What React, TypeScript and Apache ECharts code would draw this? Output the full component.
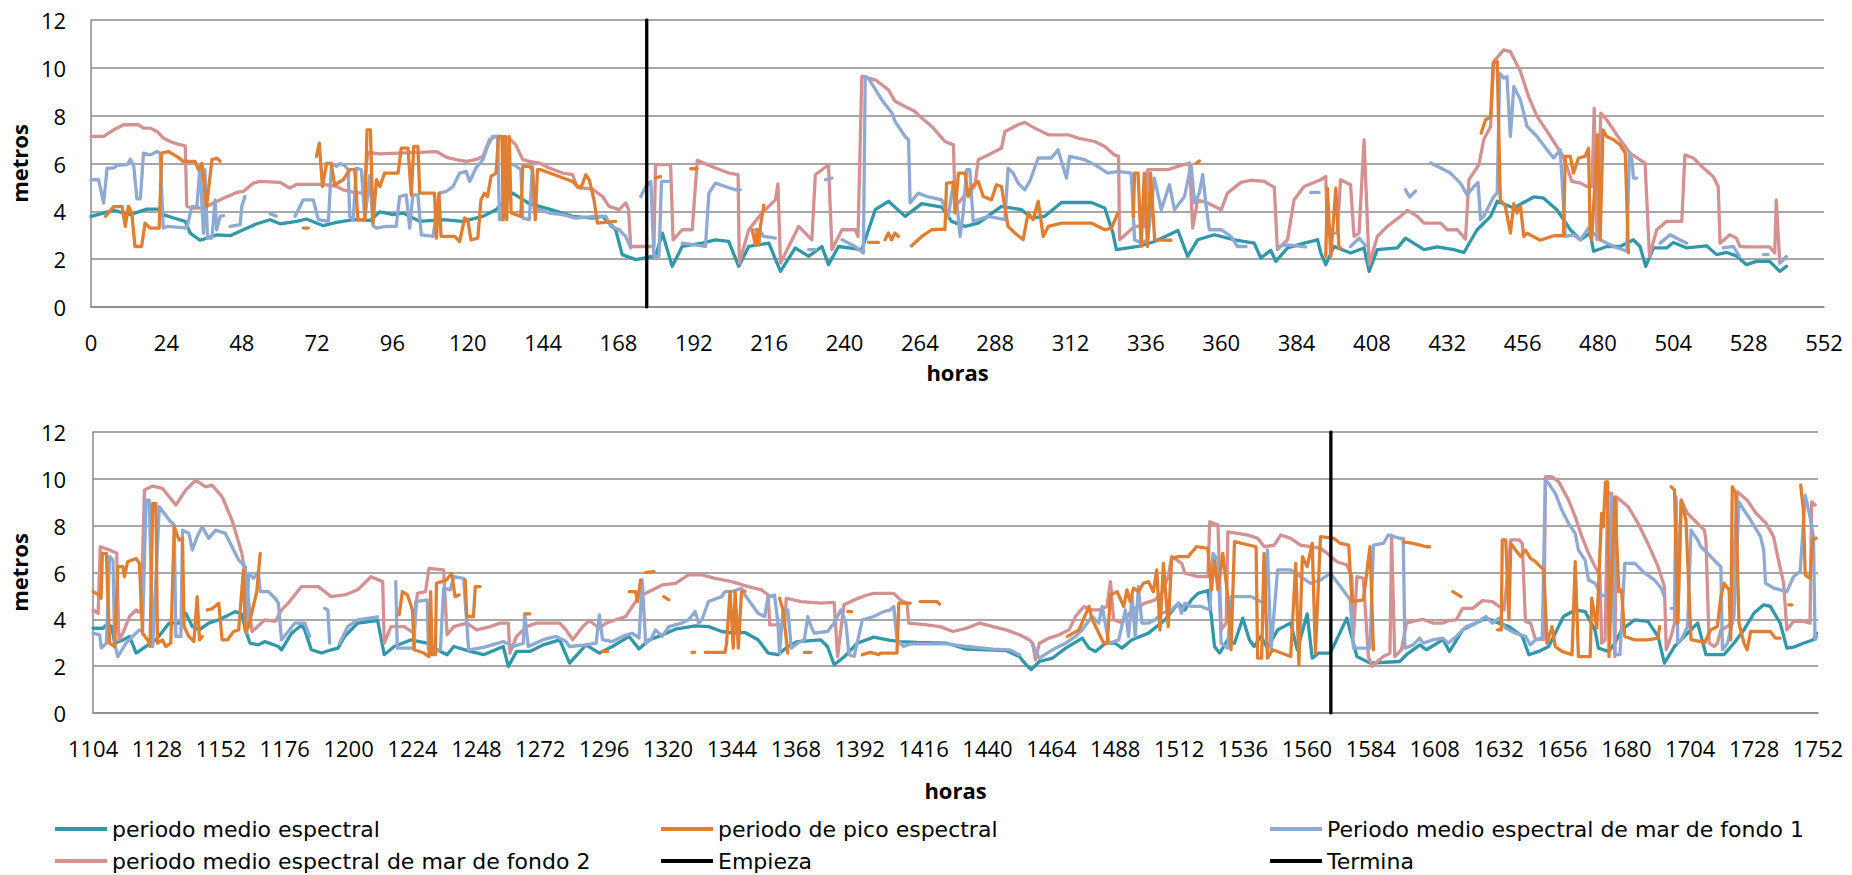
import React, { useEffect, useRef } from "react";
import * as echarts from "echarts";

type Pt = [number, number | null];

// Series names and colours
const seriesNames = [
  "periodo medio espectral",
  "periodo de pico espectral",
  "Periodo medio espectral de mar de fondo 1",
  "periodo medio espectral de mar de fondo 2",
  "Empieza",
  "Termina",
];
const seriesColors = ["#3197aa", "#e07f31", "#8eaad3", "#d49192", "#000000", "#000000"];

// Axis ranges (hours / metres)
const topHours = [0, 552];
const bottomHours = [1104, 1752];
const hourStep = 24;
const metrosRange = [0, 12];
const metrosStep = 2;

// Marker hours
const empiezaHour = 177;
const terminaHour = 1569;

// ---------- upper panel: 0 - 552 h ----------
const medioTop: Pt[] = [[0,3.79],[7.2,4.04],[12.5,3.86],[17.8,4.09],[21.5,4.09],[23,3.86],[26.3,3.72],[30,3.58],[31.6,3.09],[34.7,2.79],[37.9,2.92],[40,3.02],[44.3,2.98],[48.5,3.23],[52.8,3.48],[57,3.65],[60.2,3.48],[65.5,3.58],[68.6,3.68],[74,3.4],[78.2,3.54],[83.5,3.65],[88.8,3.62],[92,3.98],[96.2,3.86],[99.4,3.93],[104.7,3.58],[112,3.65],[118.4,3.58],[124.8,3.79],[129,4.07],[134.3,4.76],[139.6,4.32],[146,4.09],[153.4,3.79],[159.7,3.72],[162.9,3.79],[167.1,3.23],[169.2,2.19],[173.5,1.98],[177.7,2.09],[179.8,2.12],[182,3.09],[185.1,1.7],[188.3,2.53],[194.7,2.67],[198.9,2.81],[203.1,2.74],[206.3,1.7],[209.5,2.53],[215.9,2.67],[219.6,1.49],[224.3,2.47],[228.6,2.12],[232.8,2.53],[234.9,1.77],[238.1,2.53],[245.5,2.4],[249.8,4.07],[254,4.42],[259.3,3.79],[264.6,4.32],[271,4.18],[274.1,3.58],[278.4,3.37],[282.6,3.51],[290,4.21],[296.4,4.07],[299.6,3.72],[303.8,3.79],[309.1,4.37],[318.6,4.37],[322.9,4.14],[325.5,3.09],[326.6,2.4],[333.5,2.53],[338.8,2.74],[346.2,3.2],[349.3,2.12],[352.5,2.81],[357.8,3.02],[364.2,2.81],[370.5,2.67],[372.6,2.05],[375.8,2.37],[377.4,1.91],[381.1,2.47],[386.4,2.67],[390.7,2.81],[391.7,2.26],[393.3,1.77],[395.9,2.53],[401.2,2.26],[405.5,2.47],[407.1,1.49],[409.7,2.4],[416.1,2.47],[418.7,2.88],[424.6,2.4],[428.8,2.51],[434.1,2.4],[437.3,2.28],[441.5,3.23],[445.8,3.79],[447.9,4.42],[453.2,4.14],[459.5,4.6],[462.7,4.55],[466.9,4.07],[471.2,3.23],[474.4,2.81],[477.5,3.09],[478.6,2.33],[482.8,2.53],[487.1,2.53],[491.3,2.81],[493.4,2.53],[495.2,1.7],[497.7,2.47],[501.9,2.47],[504,2.7],[508.3,2.47],[514.6,2.56],[517.8,2.19],[521,2.28],[524.1,2.14],[527.3,1.77],[530.5,1.91],[534.7,1.91],[537.9,1.49],[540,1.7]];

const picoTop: Pt[] = [[4.6,3.79],[7.2,4.2],[9.9,4.2],[10.9,3.37],[11.9,4.21],[13,3.9],[14,2.53],[16.1,2.53],[17.2,3.51],[18.8,3.3],[21.7,3.3],[22.5,6.43],[24.6,6.5],[27.3,6.3],[29.4,6.09],[33.1,6.09],[34.2,5.74],[35.3,6.0],[36.8,4.2],[38.5,6.16],[40.1,6.22],[41.1,6.1],[42,null],
[67.6,3.3],[69.2,3.3],[70,null],
[71.8,6.3],[72.7,6.85],[73.7,5.04],[75,6.0],[76.5,6.0],[77.6,5.1],[80.3,5.32],[82.4,5.74],[84,5.74],[85,3.65],[87.2,3.65],[87.9,7.41],[89,7.41],[89.8,3.5],[90.9,5.32],[92,5.04],[93.5,5.6],[97.8,5.6],[98.8,6.64],[100.95,6.64],[102,4.69],[102.8,6.71],[104.1,6.71],[104.7,4.76],[109.4,4.76],[110,2.88],[110.8,4.76],[111.5,2.95],[115.8,2.95],[117.4,2.74],[119,3.72],[120,3.65],[121,2.81],[123.2,2.88],[124.2,4.48],[125.3,4.76],[126.3,4.62],[127.4,5.46],[129,5.6],[129.8,7.13],[130.9,7.13],[131.3,3.65],[132,7.13],[132.4,3.65],[133.2,7.13],[133.8,3.93],[136.9,3.79],[137.5,5.88],[139.6,5.88],[140.6,5.74],[141.5,3.65],[142.2,5.74],[143.3,5.74],[153.4,5.25],[154.4,5.11],[156,4.97],[157.6,5.53],[158.7,5.32],[160.2,4.48],[161.3,3.51],[167.1,3.58],[168,null],
[179.8,5.4],[181.4,5.45],[182,null],
[191,5.78],[193,5.78],[194,null],
[210.6,3.23],[211.6,2.6],[212.2,3.23],[212.7,2.6],[213.2,3.37],[214.3,4.25],[215,null],
[247.6,2.7],[250.8,2.7],[251.5,null],
[252.9,2.81],[254,3.09],[255,2.81],[256.1,3.09],[257.2,2.95],[258,null],
[261.4,2.56],[264.6,2.95],[267.8,3.23],[271,3.26],[272,3.23],[272.5,5.18],[274.7,5.21],[275.2,3.93],[276.3,5.6],[278.4,5.6],[279.4,4.62],[280.5,5.04],[282.6,5.25],[284.2,4.62],[286.8,4.48],[288.4,5.11],[290,5.04],[292.1,3.37],[294.3,3.09],[296.9,2.81],[298.5,3.93],[300.1,3.65],[301.7,4.42],[303.3,2.95],[304.9,3.37],[309.1,3.51],[318.6,3.51],[322.9,3.23],[325,3.3],[327.1,3.93],[328,null],
[332,3.79],[332.4,5.6],[333.5,5.6],[334.5,2.53],[335.5,5.6],[336.5,2.53],[337.5,5.6],[338.8,2.81],[344,2.79],[345,null],
[352,6.0],[353,6.1],[354,null],
[393.3,2.12],[393.8,4.97],[394.9,2.12],[396.5,4.97],[397.5,2.47],[398,2.47],[399,null],
[442.8,7.27],[444.2,7.83],[445.8,7.94],[446.6,10.2],[447.9,10.26],[448.9,4.48],[450.5,4.21],[452.1,3.09],[453.2,4.32],[454.2,3.93],[455.3,4.21],[456.4,2.95],[457.4,3.09],[461.6,2.79],[465.9,2.98],[469,2.98],[469.6,6.3],[471.2,6.3],[472.2,5.6],[473.8,6.23],[475.9,6.3],[477,6.64],[477.5,3.09],[478,2.81],[479.9,7.2],[480.7,2.81],[481.6,7.4],[482.8,7.13],[485,6.99],[487.1,6.78],[488.7,6.43],[489.7,2.26]];

const fondo1Top: Pt[] = [[0,5.32],[2.4,5.32],[4,4.35],[5.1,5.81],[7.2,5.81],[8.3,5.92],[11.5,5.95],[12.5,6.18],[13.6,5.9],[14.6,4.52],[15.7,4.52],[16.7,6.43],[18.9,6.36],[21,6.5],[22,6.43],[23,3.3],[24.2,3.37],[30.5,3.3],[32.1,4.2],[33.7,4.2],[34.7,5.88],[35.8,3.09],[36.3,5.74],[37.1,2.88],[38.5,2.88],[39.5,4.48],[40,3.23],[41.1,3.79],[42.2,3.82],[43,null],
[44.3,3.37],[47.5,3.44],[48,4.2],[49,4.62],[49.5,null],
[57,3.9],[59,3.8],[60,null],
[65,3.79],[67.6,4.48],[70.8,4.48],[72.4,3.65],[75.6,3.58],[76.6,6.0],[78.2,5.88],[79.2,6.0],[80.8,5.92],[81.9,5.74],[82.4,3.79],[83.5,3.65],[84.5,5.81],[86.1,5.74],[87.2,3.65],[88.8,5.5],[89.8,3.4],[90.9,3.3],[94,3.37],[97.2,3.37],[98.3,4.62],[100.4,4.69],[101.5,3.3],[102.5,4.69],[104.1,4.69],[105.2,3.02],[108.9,2.95],[111,4.76],[113.1,4.83],[115.3,5.04],[117.4,5.6],[119.5,5.67],[120.6,5.25],[122.6,5.81],[124.8,6.16],[126.3,6.71],[127.9,7.13],[129.5,7.13],[130.1,3.65],[131.1,3.65],[131.6,7.13],[132.7,6.0],[134.8,5.95],[136.9,5.74],[137.5,3.72],[139.6,3.65],[140.6,5.88],[141.2,4.07],[142.8,4.07],[146,3.93],[150.2,3.86],[154.4,3.72],[160.8,3.79],[164,3.79],[165.5,3.37],[168.2,3.23],[170.3,2.95],[171.9,2.47],[173,null],
[175.1,4.62],[176.7,5.04],[178.3,5.25],[179.3,2.12],[180.9,2.12],[181.7,5.25],[184.1,5.25],[185,null],
[188.3,2.67],[195.7,2.53],[196.8,4.76],[198.9,5.18],[202,5.04],[205.3,4.9],[206.8,4.9],[207.5,null],
[211.6,3.23],[212.7,3.23],[214.3,2.95],[218,2.88],[219,null],
[228.6,2.4],[230.7,2.4],[231.5,null],
[233.9,5.32],[236,5.39],[237,null],
[239.2,2.81],[243.4,2.53],[246,2.26],[246.6,9.64],[247.6,9.57],[251.9,8.66],[255.1,8.11],[256.1,7.76],[259.3,7.13],[260.4,6.99],[260.9,4.35],[263.5,4.76],[266.7,4.6],[271,4.48],[273.1,3.79],[274.7,5.25],[275.7,4.48],[276.8,2.95],[277.8,3.93],[278.9,5.74],[279.9,5.74],[281,3.58],[285.8,3.79],[291.1,3.65],[292.1,5.81],[293.7,5.6],[295.3,5.18],[297.4,4.9],[299,5.25],[301.7,6.23],[305.9,6.23],[308,6.57],[309.6,5.88],[310.7,5.39],[311.7,6.3],[316.5,6.16],[319.7,5.95],[323.9,5.6],[327.1,5.67],[331.3,5.6],[332.4,2.81],[334.5,2.67],[336.6,2.81],[338.7,5.39],[340.9,4.07],[343.5,5.11],[345.1,4.07],[348.3,4.62],[350.4,5.95],[351.5,4.35],[353,4.76],[354.1,5.53],[355.2,4.21],[356.2,3.23],[360,3.23],[363.1,2.95],[365.2,2.53],[367.9,2.53],[369,null],
[377.9,2.53],[381.1,2.6],[386.9,2.51],[387.5,null],
[388.5,4.79],[391.2,4.79],[392,null],
[401.2,2.53],[403.9,2.88],[406,2.56],[407,null],
[418.7,4.9],[420,4.6],[421.9,4.85],[423,null],
[426.7,6.02],[429.9,5.81],[433,5.6],[436.2,5.18],[438.3,4.69],[440.5,5.04],[441.8,5.21],[442.6,3.65],[443.6,3.79],[446.8,4.62],[447.9,4.76],[448.7,9.78],[450,9.57],[451,9.64],[452.1,7.13],[453.2,9.22],[455.3,8.66],[457.4,7.55],[460.6,7.13],[463.8,6.57],[465.9,6.23],[468,6.57],[469.6,2.95],[472.2,3.02],[474.4,2.81],[477,3.3],[480.7,2.81],[485,2.53],[489.2,2.33],[490,6.43],[490.8,6.16],[491.3,5.39],[492.4,5.39],[493,null],
[499.8,2.67],[503,3.02],[506,2.81],[508.3,2.67],[509,null],
[519.9,2.47],[523.1,2.53],[525,2.14],[526,null],
[532.6,2.19],[534.2,2.19],[535,null],
[537.9,1.84],[540,2.1]];

const fondo2Top: Pt[] = [[0,7.13],[4,7.13],[7.2,7.41],[9.3,7.55],[10.4,7.62],[15.1,7.62],[16.7,7.48],[18.9,7.48],[21,7.34],[23.1,7.06],[25.2,6.92],[27.3,6.82],[30,6.74],[30.5,4.21],[32.6,4.14],[35.8,4.14],[39,4.35],[42.2,4.55],[46.4,4.79],[48.5,4.83],[51.7,5.18],[53.8,5.25],[60.2,5.21],[63.3,4.97],[65.5,5.13],[74,5.13],[78.2,5.04],[80.3,4.9],[83.5,4.79],[86.6,4.76],[88.2,6.46],[92,6.4],[110,6.5],[113.1,6.27],[116.3,6.16],[119.5,6.09],[122.6,6.16],[124.8,6.3],[126.9,6.99],[129,7.13],[133.2,7.06],[135.3,6.78],[137.5,6.16],[139.6,6.09],[142.8,6.02],[145.9,5.81],[150.2,5.6],[153.4,5.53],[154.9,5.0],[159.7,4.93],[162.9,4.62],[165,4.21],[168.2,4.07],[170.3,4.35],[171.2,4.07],[171.9,2.53],[176.1,2.53],[179.3,2.53],[179.8,5.95],[184.6,5.95],[185.4,2.81],[188.3,3.23],[191.5,3.23],[193.1,6.13],[198.9,5.81],[203.1,5.6],[206.1,5.53],[206.5,1.84],[209.5,3.23],[213.7,3.93],[218,4.48],[218.8,5.15],[219.6,1.84],[225.4,3.37],[229.6,2.81],[230.7,5.53],[234.9,5.95],[236,2.4],[239.2,3.23],[243.4,3.23],[244.3,2.95],[245.5,9.64],[249.8,9.5],[254,9.08],[256.1,8.6],[259.3,8.38],[262.5,8.17],[264.6,7.9],[267.8,7.55],[272,6.92],[274.7,6.78],[275.2,4.48],[276.3,4.35],[278.4,4.69],[281.5,5.04],[282.6,6.16],[285.8,6.36],[290,6.64],[291.1,7.34],[295.3,7.62],[297.4,7.72],[300.6,7.48],[304.9,7.2],[311.2,7.2],[314.4,7.06],[319.7,6.92],[322.9,6.71],[326,6.36],[327.3,6.3],[327.6,2.81],[332.4,3.37],[335.6,3.37],[336.6,5.74],[343,5.74],[346.2,5.88],[349.9,6.02],[350.9,3.3],[352.5,4.48],[355.7,4.35],[360,4.07],[362,4.76],[366.3,5.21],[369.5,5.3],[373.7,5.25],[376.9,5.0],[377.9,2.4],[381.1,2.81],[383.2,4.48],[386.4,5.04],[391.7,5.32],[393.3,5.46],[393.8,3.09],[397,3.09],[398,5.32],[401.2,5.11],[402.3,2.95],[403.9,3.09],[405.5,6.99],[407.1,1.77],[409.7,2.95],[412.9,3.37],[417.1,3.79],[419.3,4.04],[422.5,3.79],[424.6,3.51],[429.9,3.51],[432,3.23],[435.2,3.23],[437.8,2.84],[438.9,5.32],[442.1,5.95],[443.6,6.99],[445.8,7.55],[446.8,10.26],[450,10.75],[452.1,10.68],[455.3,9.85],[457.9,8.8],[460.6,7.97],[463.8,7.34],[466.9,6.71],[469,6.3],[471.7,5.25],[474.4,5.18],[476.5,5.04],[478.1,5.04],[478.8,8.31],[479.7,2.81],[480.9,8.11],[482.8,7.83],[487.1,6.99],[490.2,6.43],[495,6.02],[496.4,2.12],[498.7,3.23],[501.9,3.58],[506.7,3.58],[507.7,6.36],[510.4,6.23],[513.6,5.81],[516.7,5.46],[518.3,5.04],[518.9,2.67],[522,3.02],[524.1,2.88],[525.2,2.53],[528.4,2.51],[534.7,2.51],[536.3,2.26],[536.8,4.48],[537.9,1.84],[540,2.1]];

// ---------- lower panel: 1104 - 1752 h ----------
const medioBottom: Pt[] = [[1104,3.62],[1107.7,3.62],[1109,3.76],[1111,3.7],[1112.1,2.98],[1115.2,3.12],[1117.7,3.27],[1120.2,2.56],[1123.9,2.84],[1127.6,3.12],[1132.6,3.84],[1136.3,3.84],[1138.8,4.26],[1141.3,3.69],[1143.8,3.55],[1147.5,3.84],[1151.2,3.98],[1155,4.19],[1157.4,4.33],[1159.9,4.23],[1161.2,3.55],[1163,2.98],[1166.1,2.91],[1168.6,3.05],[1173.6,2.84],[1174.8,2.7],[1178.6,3.41],[1182.3,3.76],[1183.5,3.55],[1186,2.7],[1189.8,2.56],[1193.5,2.7],[1196,2.77],[1198.5,3.27],[1203.4,3.84],[1210.9,3.95],[1213.4,2.49],[1217.1,2.84],[1223.3,3.12],[1229.5,2.98],[1233.3,2.7],[1237,2.49],[1239.5,2.84],[1245.7,2.63],[1250.7,2.49],[1258.1,2.84],[1260,1.99],[1263.1,2.63],[1268.1,2.63],[1273.1,2.91],[1279.3,3.12],[1283,2.13],[1289.2,2.91],[1294.2,2.56],[1299.1,2.84],[1305.4,3.27],[1309.1,2.73],[1312.8,3.12],[1316.5,3.27],[1322.8,3.58],[1330.2,3.72],[1335.2,3.69],[1340.2,3.48],[1345.1,3.41],[1348.9,3.44],[1353.8,3.13],[1357.6,2.56],[1361.3,2.49],[1365,2.84],[1368.7,3.05],[1377.4,3.12],[1379.9,2.84],[1382.4,2.06],[1386.1,2.39],[1391.1,2.98],[1397.3,3.24],[1403.5,3.1],[1407.3,3.05],[1413.5,3.01],[1424.7,2.98],[1432.1,2.73],[1439.6,2.7],[1447,2.67],[1452,2.41],[1454.5,2.06],[1456.4,1.85],[1459.5,2.2],[1464.4,2.34],[1469.4,2.77],[1475.6,3.2],[1478.1,2.77],[1480.6,2.63],[1484.3,2.98],[1488,2.98],[1490.5,2.77],[1494.3,3.13],[1500.5,3.41],[1506.7,3.98],[1511.7,4.69],[1514.1,4.4],[1516.6,4.83],[1519.1,5.11],[1522.8,5.23],[1524.1,4.12],[1525.3,2.84],[1527.2,2.56],[1530.3,3.13],[1532.8,2.98],[1535.9,4.05],[1538.4,3.13],[1540.2,2.84],[1542.7,3.27],[1545.2,2.77],[1549,3.55],[1553.9,3.84],[1556.4,2.7],[1560.1,4.23],[1562,2.34],[1564.5,2.56],[1568.8,2.56],[1575,4.05],[1578.8,2.41],[1583.7,2.13],[1594.9,2.2],[1597.4,2.49],[1602.4,2.91],[1604.9,2.7],[1611.1,3.13],[1613.6,2.63],[1618.5,3.55],[1623.5,3.84],[1627.2,4.05],[1632.2,3.84],[1635.9,3.69],[1640.9,3.27],[1643.4,2.49],[1647.1,2.63],[1650.8,2.84],[1653.3,3.41],[1656.4,4.12],[1660.8,4.4],[1664.5,4.33],[1668.2,3.55],[1669.5,2.77],[1673.2,2.63],[1675.7,2.98],[1678.2,3.55],[1683.2,3.98],[1688.1,3.91],[1691.9,3.27],[1694.3,2.13],[1698.1,2.84],[1703,3.41],[1706.8,3.84],[1709.9,2.49],[1716.7,2.49],[1720.4,2.98],[1724.2,3.55],[1727.9,4.26],[1731.6,4.62],[1734.1,4.55],[1737.8,3.84],[1740.3,2.77],[1742.8,2.81],[1746.5,2.98],[1750.3,3.13],[1751.5,3.41]];

const picoBottom: Pt[] = [[1104,5.18],[1106.5,5.04],[1107,4.9],[1107.5,6.82],[1109,6.82],[1110.2,2.98],[1112.1,2.84],[1113.3,6.25],[1115.2,6.25],[1115.8,5.82],[1117,6.46],[1120.2,6.6],[1121.4,6.39],[1122.6,3.41],[1124.5,3.12],[1125.4,2.84],[1126.4,8.95],[1127.6,8.95],[1128.2,2.98],[1130.1,3.12],[1131.3,2.84],[1133.2,2.98],[1134.5,7.95],[1136.3,7.39],[1137.6,7.46],[1138.2,3.69],[1140,3.27],[1141.9,3.05],[1143.1,4.97],[1144,3.12],[1145,3.27],[1145.5,null],
[1146.9,4.4],[1148.7,4.45],[1151.2,4.69],[1152.5,3.12],[1154.5,3.12],[1156.8,3.48],[1158.7,3.55],[1160.5,6.11],[1161.2,3.48],[1162.4,3.69],[1165.5,5.18],[1166.8,6.82],[1167.5,null],
[1219,4.19],[1220.2,5.18],[1222.1,5.04],[1224,4.4],[1224.6,2.7],[1228.3,2.56],[1230.2,2.41],[1230.8,5.18],[1231.4,2.49],[1232.6,2.49],[1233,5.54],[1234.9,5.61],[1236.8,5.68],[1238.7,5.97],[1240,4.97],[1241.5,5.04],[1242,null],
[1243.8,5.68],[1244.4,4.12],[1246.9,4.12],[1247.6,5.4],[1249.4,5.4],[1250,null],
[1266.2,4.23],[1268.1,4.23],[1269,null],
[1295.4,2.63],[1297.3,2.63],[1298,null],
[1305.4,5.18],[1307.8,5.18],[1308.5,4.76],[1309.7,5.68],[1310.5,null],
[1311.6,6.0],[1314.7,6.04],[1315.5,null],
[1318.4,4.97],[1320.3,4.83],[1321,null],
[1329,2.59],[1330,2.59],[1331,null],
[1334,2.59],[1341.4,2.59],[1342,2.98],[1343.3,5.18],[1344.5,2.77],[1345.2,5.18],[1346.4,2.77],[1347.6,5.18],[1348.9,5.2],[1349.5,null],
[1361.9,4.9],[1363.2,4.4],[1365,2.56],[1366,null],
[1371.2,2.59],[1373.7,2.59],[1374.5,null],
[1387.5,4.33],[1389,4.33],[1390,null],
[1393,2.49],[1396,2.59],[1399.2,2.49],[1399.8,2.56],[1406,2.56],[1406.7,4.69],[1411,4.69],[1412,null],
[1414.7,4.76],[1421,4.76],[1422,4.65],[1423,null],
[1470,3.27],[1474.4,3.55],[1478.1,4.55],[1479.3,4.0],[1483.7,2.98],[1485,2.98],[1486.2,5.04],[1488.7,5.18],[1491.2,4.55],[1492.4,5.26],[1493.6,4.76],[1494.9,5.33],[1496.7,5.18],[1498.6,5.54],[1500.5,5.61],[1502.3,5.18],[1503.6,6.11],[1504.8,3.55],[1506.1,6.39],[1507.9,3.69],[1509.2,6.6],[1511.7,6.68],[1515.4,6.68],[1518.5,7.1],[1522.8,7.03],[1524.1,5.26],[1525.3,6.53],[1526.6,5.26],[1528.4,6.82],[1530.3,4.97],[1531.5,2.7],[1532.8,7.32],[1540.9,7.1],[1541.5,2.34],[1543,2.34],[1543.9,6.82],[1545.2,2.34],[1547.1,2.7],[1553.9,2.41],[1555.8,6.39],[1557,2.06],[1558.3,6.68],[1560.1,6.25],[1562,7.24],[1563.2,2.56],[1565.1,7.53],[1570.1,7.46],[1572.6,7.24],[1575.7,7.17],[1576.9,4.76],[1581.2,4.83],[1583.7,7.1],[1585,2.7],[1586,null],
[1596.2,7.31],[1599.9,7.24],[1602.4,7.17],[1604.9,7.1],[1606.1,7.1],[1607,null],
[1614.8,5.18],[1617.9,4.97],[1619,null],
[1631.6,3.55],[1633,3.55],[1633.4,7.39],[1634.7,7.39],[1635.9,3.98],[1636.6,7.24],[1638.4,6.96],[1640.3,6.68],[1642.1,6.96],[1644,6.6],[1645.9,6.46],[1647.7,6.25],[1649,6.11],[1650.2,2.98],[1652.1,3.69],[1653.3,2.84],[1655.8,2.63],[1659.6,2.49],[1660.8,6.46],[1662,2.41],[1666.4,2.41],[1667,4.9],[1668.9,3.62],[1670.7,8.52],[1671.3,7.95],[1672.2,9.87],[1673,9.87],[1673.5,2.41],[1674.5,5.82],[1675.7,9.23],[1677.2,5.18],[1678.2,5.25],[1679.4,3.27],[1683.2,3.12],[1688.1,3.12],[1691.9,3.2],[1692.5,3.69],[1693,null],
[1696.8,9.66],[1698.1,9.52],[1699.3,3.84],[1700.6,9.09],[1702.4,8.24],[1704.3,3.13],[1708,3.05],[1709.3,2.98],[1711.7,3.55],[1714.2,3.69],[1715.5,4.97],[1716.7,5.54],[1718.6,5.25],[1719.2,3.12],[1719.8,9.66],[1721.1,9.38],[1722.3,3.84],[1724.2,2.98],[1725.4,2.7],[1726.7,3.48],[1730.4,3.48],[1734.1,3.48],[1736,3.2],[1737.8,3.2],[1738.5,null],
[1741,4.62],[1742.2,4.62],[1743,null],
[1745.5,9.73],[1746.5,8.66],[1747.2,5.9],[1749,5.75],[1750,7.39],[1751.3,7.46]];

const fondo1Bottom: Pt[] = [[1104,3.41],[1106.5,3.34],[1107.1,2.77],[1109,2.98],[1110.2,6.68],[1111.5,6.53],[1112.1,2.98],[1113.3,2.41],[1116.4,2.98],[1118.9,3.27],[1121.4,3.55],[1122.6,3.48],[1123.9,9.09],[1125.1,9.09],[1126.4,2.84],[1128.9,8.81],[1132.6,8.24],[1134.5,8.03],[1135.1,3.27],[1137,3.27],[1137.6,7.81],[1140,7.67],[1141.3,6.96],[1143.1,7.53],[1145,7.95],[1147.5,7.46],[1150,7.81],[1153.7,7.67],[1156.2,7.1],[1158.7,6.53],[1161.2,6.25],[1161.8,3.41],[1162.4,5.97],[1164.3,5.75],[1166.1,6.04],[1166.8,5.18],[1169.9,5.18],[1172.4,4.9],[1173.6,4.69],[1174.8,3.12],[1179.8,3.84],[1183.5,3.84],[1185.4,3.27],[1186,null],
[1191,4.47],[1192.2,4.4],[1192.9,2.98],[1193.5,null],
[1196.6,2.98],[1199.7,3.69],[1203.4,3.98],[1210.9,4.1],[1211.5,null],
[1217.7,5.61],[1218.3,2.77],[1224.6,2.77],[1225.2,4.76],[1229.5,4.83],[1230,2.7],[1234.5,2.7],[1235.7,5.33],[1238.2,5.26],[1239.5,5.82],[1243.2,5.75],[1245.1,2.7],[1250.7,2.8],[1258.1,3.05],[1261.9,2.84],[1265.6,2.98],[1266.2,4.19],[1267.5,2.84],[1273.1,3.13],[1278,3.27],[1281.7,3.05],[1283,2.84],[1289.2,2.91],[1293,2.98],[1294.2,4.19],[1295.4,3.13],[1299.1,3.05],[1302.9,3.27],[1306.6,3.41],[1309.1,3.2],[1310.3,5.68],[1311.6,2.98],[1313.4,3.12],[1315.3,3.55],[1317.8,3.27],[1320.3,3.69],[1325.2,3.84],[1327.7,3.98],[1330.2,4.33],[1331.5,3.84],[1332.7,3.98],[1335.2,4.76],[1340.2,4.97],[1341.4,5.18],[1343.9,5.18],[1347.6,5.33],[1348.9,5.04],[1353.8,4.26],[1356.3,4.12],[1357.6,4.97],[1360,5.04],[1361.3,3.84],[1361.9,2.56],[1363.2,4.4],[1365,4.4],[1366.3,2.77],[1368.7,2.98],[1371.2,3.13],[1372.5,4.12],[1373.7,3.69],[1375,3.41],[1379.9,3.48],[1382.4,3.84],[1384.9,4.4],[1386.8,3.84],[1388,2.49],[1389.9,2.41],[1393,3.98],[1397.3,4.12],[1401,4.33],[1403.5,4.4],[1404.8,4.55],[1406,3.13],[1408.5,2.84],[1411,2.95],[1424.7,2.95],[1432.1,2.84],[1442.1,2.73],[1448.3,2.7],[1452,2.49],[1453,null],
[1457,2.91],[1459.5,2.34],[1464.4,2.7],[1469.4,2.98],[1473.1,3.27],[1475.6,3.55],[1479.3,4.12],[1481.8,3.84],[1483.1,4.55],[1485.6,2.98],[1489.3,3.12],[1491.8,4.4],[1493,3.27],[1494.3,4.97],[1495.5,3.27],[1496.7,5.4],[1498,3.84],[1500.5,3.84],[1503,3.98],[1505.4,4.26],[1509.2,4.4],[1511.7,4.69],[1512.9,4.26],[1514.1,4.69],[1516.6,4.55],[1520.4,4.55],[1523.5,4.4],[1524.7,6.82],[1526.6,6.53],[1527.8,2.98],[1530.3,2.77],[1531.5,4.97],[1539,4.97],[1541.5,4.83],[1544,4.69],[1545.2,6.96],[1546.5,2.7],[1549,6.11],[1553.9,6.11],[1557.6,5.82],[1561.4,5.54],[1565.1,5.68],[1568.8,5.97],[1572.6,5.4],[1576.3,4.83],[1577.5,2.77],[1583.7,2.77],[1585,7.17],[1588.7,7.24],[1590.6,7.6],[1594.9,7.46],[1596.2,7.46],[1596.8,2.77],[1599.9,2.91],[1602.4,3.2],[1603.6,2.98],[1607.3,3.12],[1611.1,3.2],[1613,2.98],[1616.1,3.27],[1619.8,3.69],[1623.5,3.84],[1627.2,4.12],[1629.7,3.84],[1632.2,4.05],[1634.7,3.62],[1638.4,3.41],[1642.1,3.27],[1644,2.91],[1645.9,3.13],[1648.4,3.2],[1649.6,9.94],[1650.8,9.8],[1653.3,9.38],[1655.8,8.66],[1658.3,8.1],[1660.8,7.67],[1662,6.96],[1664.5,6.53],[1665.8,5.68],[1668.2,5.54],[1670.7,5.04],[1673.2,4.97],[1674.5,9.23],[1675.7,2.49],[1677.6,2.49],[1679.4,6.39],[1683.2,6.39],[1686.9,5.97],[1690.6,5.68],[1693.1,5.33],[1694.3,4.97],[1695,null],
[1696.8,4.47],[1698.1,4.47],[1698.7,9.23],[1699.3,2.98],[1700.6,3.13],[1703,3.69],[1704.3,7.81],[1706.8,7.39],[1708,7.1],[1710.5,6.82],[1713,6.53],[1715.5,6.25],[1716.1,2.7],[1718,2.98],[1720.4,4.12],[1722.3,9.02],[1724.2,8.66],[1726.7,8.24],[1730.4,7.53],[1731.6,6.96],[1732.3,5.54],[1735.4,5.33],[1737.8,5.26],[1740.3,5.18],[1742.8,5.82],[1745.3,6.04],[1747.2,9.3],[1749,8.38],[1750.3,7.53],[1750.9,3.13],[1751.5,3.27]];

const fondo2Bottom: Pt[] = [[1104,4.4],[1105.9,4.26],[1106.7,7.1],[1110.2,6.96],[1112.9,6.82],[1113.7,3.12],[1115.2,3.41],[1117.7,4.12],[1120.2,4.4],[1122,4.26],[1123.3,9.52],[1126.4,9.69],[1130.1,9.59],[1135.1,8.88],[1138.8,9.52],[1142.5,9.94],[1146.3,9.66],[1148.7,9.73],[1152.5,9.23],[1156.2,8.24],[1159.9,6.82],[1162,5.2],[1163.7,3.48],[1168.6,3.98],[1172.4,3.91],[1174.8,4.4],[1177.3,4.69],[1182.3,5.4],[1188.5,5.4],[1193.5,4.97],[1198.5,5.04],[1203.4,5.26],[1208.4,5.82],[1212.8,5.61],[1213.4,2.98],[1215.9,3.69],[1220.8,3.69],[1224.6,3.41],[1225.8,5.11],[1228.9,5.18],[1230.2,6.18],[1235.7,6.11],[1237,3.34],[1239.5,3.69],[1244.4,3.84],[1248.2,3.55],[1253.2,3.69],[1256.9,3.84],[1260,3.84],[1260.6,2.56],[1263.1,3.27],[1266.8,3.69],[1270.6,3.84],[1279.3,3.84],[1281.7,3.55],[1284.2,3.13],[1288,3.69],[1290.4,3.95],[1294.2,3.62],[1296.7,3.84],[1300.4,3.98],[1304.1,4.12],[1306.6,4.55],[1309.1,4.97],[1312.8,5.18],[1317.8,5.47],[1322.8,5.54],[1327.7,5.9],[1332.7,5.9],[1337.7,5.75],[1343.9,5.61],[1350.1,5.4],[1355.1,5.26],[1357.6,5.04],[1358.2,3.76],[1363.8,3.76],[1364.4,4.9],[1370,4.76],[1377.4,4.69],[1382.4,4.72],[1383.7,2.41],[1386.1,4.62],[1389.9,4.83],[1394.8,5.04],[1397.3,5.11],[1404.8,5.11],[1407.3,4.83],[1409.8,4.69],[1410.4,3.84],[1417.2,3.76],[1422.2,3.69],[1427.1,3.48],[1432.1,3.62],[1437.1,3.84],[1442.1,3.69],[1447,3.55],[1452,3.34],[1455.7,3.13],[1457,2.98],[1458,2.27],[1459.5,2.98],[1463.2,3.2],[1466.9,3.34],[1470.6,3.55],[1473.1,4.12],[1476.2,4.55],[1479.3,4.4],[1481.8,4.4],[1484.9,4.55],[1486.2,5.61],[1487.4,3.98],[1490.5,3.84],[1494.3,4.4],[1499.2,4.69],[1503,4.83],[1505.4,5.11],[1507.9,5.82],[1509.2,6.68],[1513,6.39],[1514.1,5.97],[1519.1,5.82],[1522.8,5.82],[1523.5,8.17],[1526.6,8.03],[1527.8,3.55],[1529.7,3.84],[1530.3,7.74],[1534,7.67],[1537.8,7.6],[1541.5,7.46],[1544,7.1],[1547.7,7.17],[1550.2,7.6],[1553.9,7.46],[1557.6,7.17],[1561.4,7.1],[1565.1,7.03],[1567.6,6.82],[1571.3,6.46],[1575,6.32],[1576.9,5.82],[1577.5,3.27],[1578.8,5.82],[1581.2,5.75],[1583.1,2.41],[1584.4,1.99],[1588.7,2.41],[1591.2,2.55],[1591.8,7.6],[1593,2.41],[1595.5,2.7],[1597.4,3.84],[1601.1,3.95],[1603.6,4.0],[1607.3,3.84],[1611.1,3.84],[1613.6,3.95],[1616.1,3.98],[1618.5,4.47],[1622.3,4.47],[1626,4.8],[1629.7,4.76],[1632.2,4.55],[1634.1,4.4],[1636.6,7.39],[1639.7,7.39],[1640.9,7.24],[1642.1,3.91],[1644,3.84],[1645.9,3.13],[1649,3.13],[1649.6,10.09],[1652.1,10.09],[1654.6,9.87],[1658.3,9.09],[1660.8,8.38],[1663.3,7.53],[1665.8,6.82],[1668.2,6.25],[1670.1,5.9],[1670.7,2.98],[1672,3.12],[1673,9.38],[1674.5,9.38],[1675.7,2.41],[1676.3,9.23],[1680.7,8.81],[1684.4,8.1],[1688.1,7.24],[1691.9,6.25],[1694.3,5.4],[1695,2.7],[1696.8,3.27],[1698.1,3.84],[1698.7,9.09],[1699.3,3.84],[1700.6,9.09],[1703,8.52],[1705.5,8.24],[1709.3,7.81],[1709.9,7.39],[1711.1,2.98],[1713,2.84],[1714.2,2.98],[1715.5,3.55],[1718,3.69],[1719.2,3.84],[1721.7,9.45],[1725.4,9.09],[1728.8,8.52],[1732.5,8.1],[1735.3,7.53],[1736.6,6.82],[1739.1,5.54],[1740.3,3.55],[1742.8,3.91],[1746.5,3.91],[1749,3.84],[1749.6,9.02],[1750.9,8.88]];

const TICK_FONT = "'Open Sans', 'Liberation Sans', sans-serif";
const LEGEND_FONT = "'DejaVu Sans', sans-serif";
const GRID_GRAY = "#8a8a8a";

function lineSeries(name: string, color: string, data: Pt[], axis: number, z = 2) {
  return {
    name,
    type: "line",
    xAxisIndex: axis,
    yAxisIndex: axis,
    data,
    showSymbol: false,
    symbol: "none",
    connectNulls: false,
    color,
    lineStyle: { color, width: 3.3, cap: "round", join: "round" },
    z,
    silent: true,
  };
}

function xAxisFor(grid: number, range: number[], nameGap: number) {
  return {
    gridIndex: grid,
    type: "value",
    min: range[0],
    max: range[1],
    interval: hourStep,
    name: "horas",
    nameLocation: "middle",
    nameGap,
    nameTextStyle: { fontFamily: TICK_FONT, fontSize: 22, fontWeight: "bold", color: "#000" },
    axisLine: { show: true, lineStyle: { color: GRID_GRAY, width: 1.5 } },
    axisTick: { show: false },
    splitLine: { show: false },
    axisLabel: {
      fontFamily: TICK_FONT,
      fontSize: 22,
      color: "#000",
      margin: 24,
      formatter: (v: number) => String(v),
    },
  };
}

function yAxisFor(grid: number, nameGap: number, margin: number) {
  return {
    gridIndex: grid,
    type: "value",
    min: metrosRange[0],
    max: metrosRange[1],
    interval: metrosStep,
    name: "metros",
    nameLocation: "middle",
    nameGap,
    nameRotate: 90,
    nameTextStyle: { fontFamily: TICK_FONT, fontSize: 22, fontWeight: "bold", color: "#000" },
    axisLine: { show: true, lineStyle: { color: GRID_GRAY, width: 1.5 } },
    axisTick: { show: false },
    splitLine: { show: true, lineStyle: { color: GRID_GRAY, width: 1.5 } },
    axisLabel: { fontFamily: TICK_FONT, fontSize: 22, color: "#000", margin },
  };
}

function legendAt(name: string, left: number, top: number) {
  return {
    data: [name],
    left,
    top,
    padding: 0,
    icon: "rect",
    itemWidth: 52,
    itemHeight: 4,
    selectedMode: false,
    textStyle: { fontFamily: LEGEND_FONT, fontSize: 22, color: "#000" },
  };
}

export default function App() {
  const ref = useRef<HTMLDivElement>(null);

  useEffect(() => {
    if (!ref.current) return;
    const chart = echarts.init(ref.current, undefined, { renderer: "svg" });

    const option = {
      animation: false,
      backgroundColor: "#ffffff",
      grid: [
        { left: 87, right: 28, top: 20, height: 287 },
        { left: 80, right: 34, top: 432, height: 281 },
      ],
      xAxis: [xAxisFor(0, topHours, 54), xAxisFor(1, bottomHours, 66)],
      yAxis: [yAxisFor(0, 54, 25), yAxisFor(1, 47, 27)],
      legend: [
        legendAt(seriesNames[0], 55, 818),
        legendAt(seriesNames[1], 661, 818),
        legendAt(seriesNames[2], 1270, 818),
        legendAt(seriesNames[3], 55, 850),
        legendAt(seriesNames[4], 661, 850),
        legendAt(seriesNames[5], 1270, 850),
      ],
      series: [
        lineSeries(seriesNames[0], seriesColors[0], medioTop, 0),
        lineSeries(seriesNames[1], seriesColors[1], picoTop, 0, 4),
        lineSeries(seriesNames[2], seriesColors[2], fondo1Top, 0, 3),
        lineSeries(seriesNames[3], seriesColors[3], fondo2Top, 0, 2),
        lineSeries(seriesNames[4], seriesColors[4], [[empiezaHour, metrosRange[0]], [empiezaHour, metrosRange[1]]], 0, 5),
        lineSeries(seriesNames[0], seriesColors[0], medioBottom, 1),
        lineSeries(seriesNames[1], seriesColors[1], picoBottom, 1, 4),
        lineSeries(seriesNames[2], seriesColors[2], fondo1Bottom, 1, 3),
        lineSeries(seriesNames[3], seriesColors[3], fondo2Bottom, 1, 2),
        lineSeries(seriesNames[5], seriesColors[5], [[terminaHour, metrosRange[0]], [terminaHour, metrosRange[1]]], 1, 5),
      ],
    };

    chart.setOption(option as any);
    return () => chart.dispose();
  }, []);

  return (
    <div
      ref={ref}
      style={{ position: "absolute", left: 0, top: 0, width: 1852, height: 875, background: "#fff" }}
    />
  );
}
